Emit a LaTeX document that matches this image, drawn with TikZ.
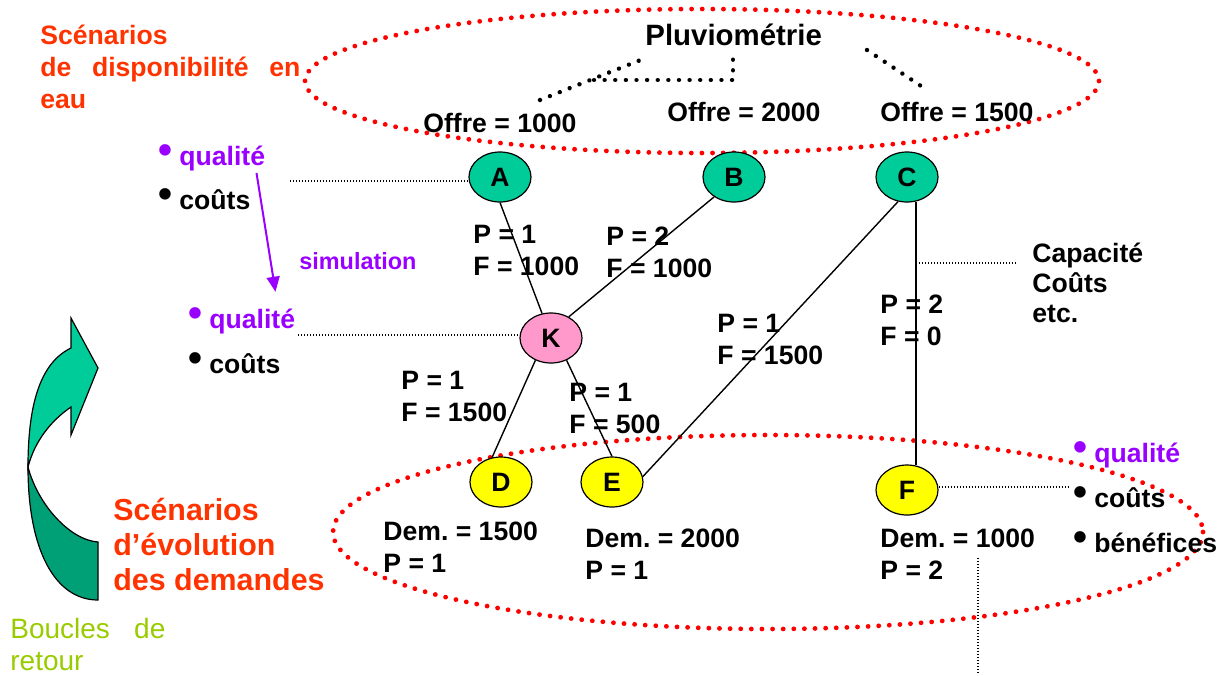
\documentclass[tikz,border=0pt]{standalone}
\usepackage{fontspec}
\setmainfont{Liberation Sans}
\usepackage{graphicx}
\usetikzlibrary{shapes.geometric,arrows.meta}

\definecolor{scenred}{HTML}{FF3300}
\definecolor{simpurple}{HTML}{9900FF}
\definecolor{loopgreen}{HTML}{99CC00}
\definecolor{supply}{HTML}{00CC99}
\definecolor{hub}{HTML}{FF99CC}
\definecolor{demand}{HTML}{FFFF00}
\definecolor{arrowlight}{HTML}{00CC99}
\definecolor{arrowdark}{HTML}{00A077}

\newcommand{\blt}{\raisebox{1pt}{\scalebox{1.5}{\textbullet}}\hspace{3.5pt}}

\tikzset{
  site/.style={ellipse, draw, line width=0.6pt, minimum width=31pt, minimum height=25pt,
    inner sep=0pt, font=\bfseries\fontsize{13.3}{16}\selectfont},
  lbl/.style={anchor=base west, inner sep=0pt, align=left,
    font=\bfseries\fontsize{13.3}{16}\selectfont},
  link/.style={line width=0.7pt},
  thindot/.style={line width=0.6pt, dash pattern=on 0.6pt off 0.9pt},
  bigdots/.style={line width=2.4pt, line cap=round, dash pattern=on 0.01pt off 5.3pt},
}

\begin{document}
\frenchspacing
\begin{tikzpicture}[x=0.5pt, y=-0.5pt]
\useasboundingbox (0,0) rectangle (1219,675);

% Scenario ellipses (red dots)
\draw[bigdots, red] (702,81) ellipse [x radius=397, y radius=72];
\draw[bigdots, red] (768,532) ellipse [x radius=435, y radius=97];

% Rainfall and the three supply levels
\node[lbl, font=\bfseries\fontsize{14.7}{17}\selectfont] (pluvio) at (645,45) {Pluviométrie};
\draw[bigdots, line width=2.2pt] (540,100) -- (643,59);
\draw[bigdots, line width=2.2pt] (594,80) -- (733,80) -- (733,59);
\draw[bigdots, line width=2.2pt] (867,50) -- (921,86);
\node[lbl] (of1) at (423,132) {Offre = 1000};
\node[lbl] (of2) at (667,121) {Offre = 2000};
\node[lbl] (of3) at (880,121) {Offre = 1500};

% Network nodes
\node[site, fill=supply] (A) at (500,177) {A};
\node[site, fill=supply] (B) at (734,177) {B};
\node[site, fill=supply] (C) at (907,177) {C};
\node[site, fill=hub] (K) at (551,338) {K};
\node[site, fill=demand] (D) at (501,482) {D};
\node[site, fill=demand] (E) at (612,482) {E};
\node[site, fill=demand] (F) at (907,490) {F};

% Links
\draw[link] (A.south) -- (K.110);
\draw[link] (B.225) -- (K.50);
\draw[link] (K.235) -- (D.110);
\draw[link] (K.305) -- (E.north);
\draw[link] (C.250) -- (E.10);
\draw[link] (C.290) -- (F.70);

% Link labels (anchored on the last line)
\node[lbl] (pak) at (473,275) {P = 1\\F = 1000};
\node[lbl] (pbk) at (606,277) {P = 2\\F = 1000};
\node[lbl] (pce) at (717,364) {P = 1\\F = 1500};
\node[lbl] (pcf) at (880,345) {P = 2\\F = 0};
\node[lbl] (pkd) at (401,421) {P = 1\\F = 1500};
\node[lbl] (pke) at (569,433) {P = 1\\F = 500};

% Demands
\node[lbl] (dd) at (383,572) {Dem. = 1500\\P = 1};
\node[lbl] (de) at (585,579) {Dem. = 2000\\P = 1};
\node[lbl] (df) at (880,579) {Dem. = 1000\\P = 2};

% Left titles
\node[lbl, text=scenred] (scen1) at (40,108)
  {Scénarios\\\makebox[130pt][s]{de disponibilité en}\\eau};
\node[lbl, text=scenred, font=\bfseries\fontsize{15.2}{17.5}\selectfont] (scen2) at (113,590)
  {Scénarios\\d’évolution\\des demandes};
\node[lbl, text=loopgreen, font=\fontsize{14}{16}\selectfont] (loop) at (10,670)
  {\makebox[77.5pt][s]{Boucles de}\\retour};

% Feedback arrow
\draw[fill=arrowdark, line width=0.6pt] (28,467) .. controls (28,550) and (55,600) .. (98,600)
  -- (98,542) .. controls (70,540) and (38,505) .. (28,467) -- cycle;
\draw[fill=arrowlight, line width=0.6pt] (28,467) .. controls (28,400) and (42,362) .. (71,348)
  -- (71,318) -- (98,368) -- (71,435) -- (71,407) .. controls (52,420) and (35,440) .. (28,467) -- cycle;

% Criteria at the supply side and after simulation
\node[lbl, text=simpurple] (q1) at (158,165) {\blt qualité};
\node[lbl] (c1) at (158,209) {\blt coûts};
\node[lbl, text=simpurple] (q2) at (188,328) {\blt qualité};
\node[lbl] (c2) at (188,373) {\blt coûts};
\draw[simpurple, line width=1pt, -{Triangle[length=7.5pt,width=6.5pt]}]
  ([xshift=-4.5pt,yshift=-1pt]q1.south east) -- ([xshift=-10pt,yshift=7.5pt]q2.north east);
\node[lbl, text=simpurple, font=\bfseries\fontsize{11.7}{14}\selectfont] (sim) at (299,269) {simulation};

% Criteria at the demand side
\node[lbl, text=simpurple] (q3) at (1073,462) {\blt qualité};
\node[lbl] (c3) at (1073,507) {\blt coûts};
\node[lbl] (b3) at (1073,552) {\blt bénéfices};

% Attributes of the links
\node[lbl, font=\bfseries\fontsize{13.3}{15}\selectfont] (capa) at (1032,322) {Capacité\\Coûts\\etc.};

% Fine dotted leaders
\coordinate (qa) at (290,181);
\coordinate (qk) at (298,335);
\coordinate (cl) at (1017,263);
\coordinate (fr) at (1070,487);
\coordinate (vt) at (978,558);
\coordinate (vb) at (978,673);
\draw[thindot] (qa) -- (A.west |- qa);
\draw[thindot] (qk) -- (K.west |- qk);
\draw[thindot] (C.290 |- cl) -- (cl);
\draw[thindot] (F.east |- fr) -- (fr);
\draw[thindot] (vt) -- (vb);

\end{tikzpicture}
\end{document}
